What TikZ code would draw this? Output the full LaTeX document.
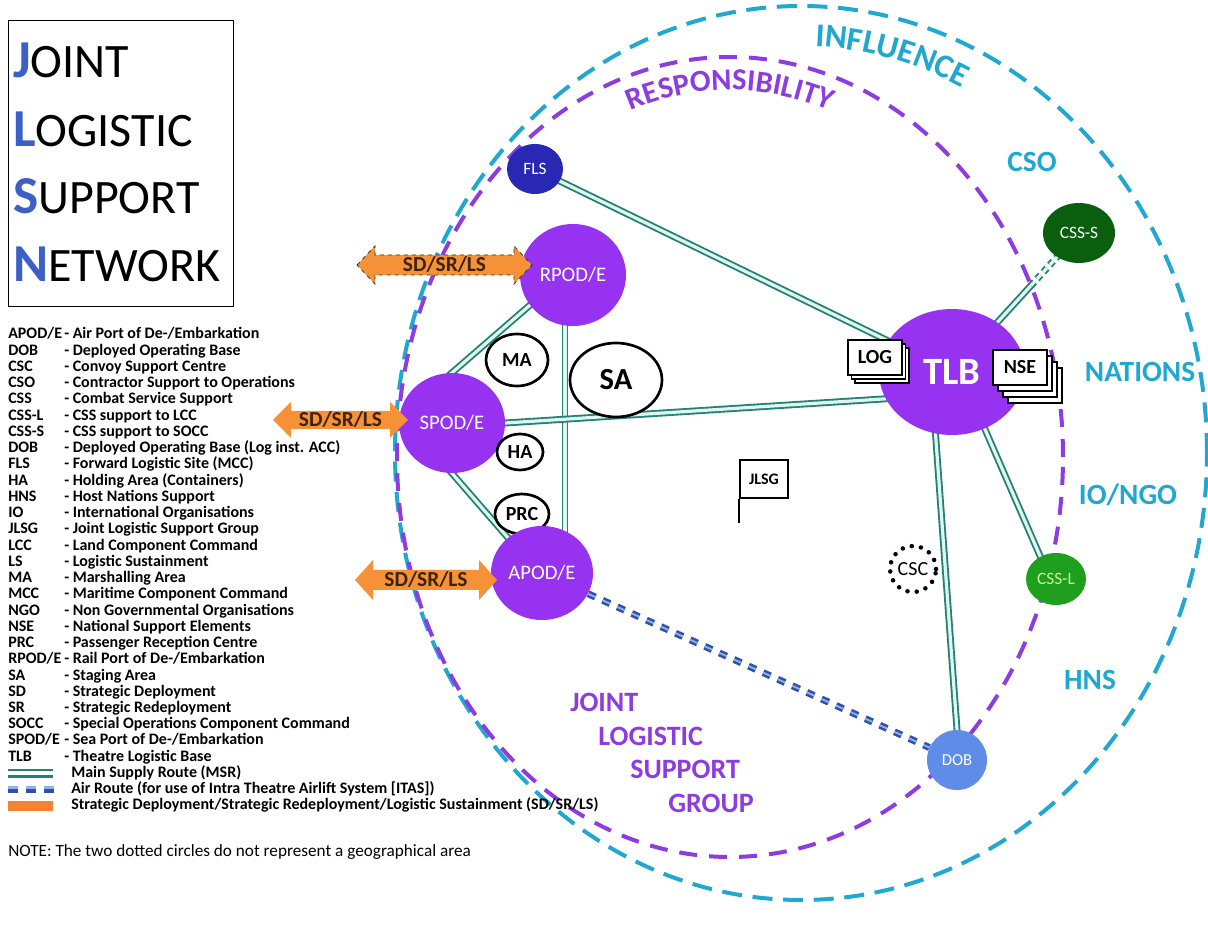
\documentclass[tikz,border=0pt]{standalone}
\usepackage{fontspec}
\setmainfont{Carlito}
\usetikzlibrary{shapes.geometric,decorations.text,calc}
\pgfdeclarelayer{bg}
\pgfsetlayers{bg,main}
\definecolor{cyanc}{RGB}{32,168,208}
\definecolor{purp}{RGB}{140,60,225}
\definecolor{nodep}{RGB}{150,50,240}
\definecolor{flsb}{RGB}{40,40,180}
\definecolor{dgreen}{RGB}{10,95,15}
\definecolor{lgreen}{RGB}{30,160,30}
\definecolor{cssltext}{RGB}{215,240,160}
\definecolor{dobb}{RGB}{95,140,230}
\definecolor{teal2}{RGB}{35,130,115}
\definecolor{msrin}{RGB}{225,245,240}
\definecolor{orng}{RGB}{245,145,55}
\definecolor{airb}{RGB}{50,80,170}
\definecolor{airl}{RGB}{140,180,230}
\definecolor{ttlb}{RGB}{60,95,200}
\definecolor{arrtxt}{RGB}{60,35,10}
\newcommand\ttlline[2]{{\color{ttlb}\bfseries\fontsize{40}{40}\selectfont #1}{\fontsize{36}{36}\selectfont #2}}
\newcommand\legrow[3]{\node[legab] (la#1) at (8,{339+16.24*#1}) {#2};\node[legab] (ld#1) at (64,{339+16.24*#1}) {- #3};}
\begin{document}
\begin{tikzpicture}[x=0.75pt,y=-0.75pt,
 ell/.style 2 args={ellipse, inner sep=0pt, minimum width={#1*1.5pt}, minimum height={#2*1.5pt}},
 portn/.style={fill=nodep, text=white, font=\fontsize{15.5}{16}\selectfont},
 areac/.style={draw=black, line width=2pt, fill=white, font=\bfseries\fontsize{15}{15}\selectfont},
 msr/.style={draw=teal2, double=msrin, double distance=2.4pt, line width=1.4pt, shorten <=-3pt, shorten >=-3pt},
 airroute/.style={draw=airb, double=airl, double distance=1.4pt, line width=1.9pt, dash pattern=on 6pt off 6pt},
 stackbox/.style={draw=black, line width=0.8pt, fill=white, minimum width=40.5pt, minimum height=26.25pt, inner sep=0pt, font=\bfseries\fontsize{15}{15}\selectfont},
 legab/.style={anchor=base west, inner sep=0pt, font=\bfseries\fontsize{12}{12}\selectfont},
 zonelab/.style={font=\bfseries\fontsize{22}{22}\selectfont, text=cyanc},
 jl/.style={anchor=base west, inner sep=0pt, font=\bfseries\fontsize{21}{21}\selectfont, text=purp},
 sdtext/.style={font=\bfseries\fontsize{16}{16}\selectfont, text=arrtxt, inner sep=0pt},
 ttl/.style={anchor=base west, inner sep=0pt}
]
\begin{pgfonlayer}{bg}
\fill[white] (0,0) rectangle (1208,944);
\end{pgfonlayer}
\useasboundingbox (0,0) rectangle (1208,944);

% ---------- title box ----------
\node[draw, line width=0.8pt, minimum width=168.75pt, minimum height=214.5pt, anchor=north west, inner sep=0pt] (title) at (8,20) {};
\node[ttl] (t1) at (13,78) {\ttlline{J}{OINT}};
\node[ttl] (t2) at (13,147) {\ttlline{L}{OGISTIC}};
\node[ttl] (t3) at (13,214) {\ttlline{S}{UPPORT}};
\node[ttl] (t4) at (13,282) {\ttlline{N}{ETWORK}};

% ---------- legend ----------
\legrow{0}{APOD/E}{Air Port of De-/Embarkation}
\legrow{1}{DOB}{Deployed Operating Base}
\legrow{2}{CSC}{Convoy Support Centre}
\legrow{3}{CSO}{Contractor Support to Operations}
\legrow{4}{CSS}{Combat Service Support}
\legrow{5}{CSS-L}{CSS support to LCC}
\legrow{6}{CSS-S}{CSS support to SOCC}
\legrow{7}{DOB}{Deployed Operating Base (Log inst. ACC)}
\legrow{8}{FLS}{Forward Logistic Site (MCC)}
\legrow{9}{HA}{Holding Area (Containers)}
\legrow{10}{HNS}{Host Nations Support}
\legrow{11}{IO}{International Organisations}
\legrow{12}{JLSG}{Joint Logistic Support Group}
\legrow{13}{LCC}{Land Component Command}
\legrow{14}{LS}{Logistic Sustainment}
\legrow{15}{MA}{Marshalling Area}
\legrow{16}{MCC}{Maritime Component Command}
\legrow{17}{NGO}{Non Governmental Organisations}
\legrow{18}{NSE}{National Support Elements}
\legrow{19}{PRC}{Passenger Reception Centre}
\legrow{20}{RPOD/E}{Rail Port of De-/Embarkation}
\legrow{21}{SA}{Staging Area}
\legrow{22}{SD}{Strategic Deployment}
\legrow{23}{SR}{Strategic Redeployment}
\legrow{24}{SOCC}{Special Operations Component Command}
\legrow{25}{SPOD/E}{Sea Port of De-/Embarkation}
\legrow{26}{TLB}{Theatre Logistic Base}
\node[legab] (ld27) at (71,{339+16.24*27}) {Main Supply Route (MSR)};
\node[legab] (ld28) at (71,{339+16.24*28}) {Air Route (for use of Intra Theatre Airlift System [ITAS])};
\node[legab] (ld29) at (71,{339+16.24*29}) {Strategic Deployment/Strategic Redeployment/Logistic Sustainment (SD/SR/LS)};
\draw[teal2, line width=2pt] (8,770) -- (53,770);
\draw[teal2, line width=2.2pt] (8,776.5) -- (53,776.5);
\foreach \xa in {8,26,44}{
  \fill[airl] (\xa,786) rectangle ++(10,3.5);
  \fill[airb] (\xa,789.5) rectangle ++(10,3.5);
}
\fill[orng!90!red] (8,801) rectangle (53,811);
\node[anchor=base west, inner sep=0pt, font=\fontsize{12.9}{13}\selectfont] (note) at (8,857) {NOTE: The two dotted circles do not represent a geographical area};

% ---------- zone circles ----------
\begin{pgfonlayer}{bg}
\draw[cyanc, line width=3pt, dash pattern=on 15pt off 8pt] (801,453) ellipse [x radius=304.5pt, y radius=335.25pt];
\draw[purp, line width=3pt, dash pattern=on 13.5pt off 9pt] (730,457) ellipse [x radius=249.75pt, y radius=300pt];
\end{pgfonlayer}
\path[decorate, decoration={text along path, text align=center, text={|\bfseries\fontsize{25}{25}\selectfont\color{cyanc}|INFLUENCE}}]
  (737.4,52.2) arc[start angle=100, end angle=52, x radius=274.5pt, y radius=305.25pt];
\path[decorate, decoration={text along path, text align=center, text={|\bfseries\fontsize{23}{23}\selectfont\color{purp}|RESPONSIBILITY}}]
  (581,138.9) arc[start angle=120, end angle=60, x radius=223.5pt, y radius=273.75pt];

% ---------- zone labels ----------
\node[zonelab] (cso) at (1032,162) {CSO};
\node[zonelab] (nations) at (1140,372) {NATIONS};
\node[zonelab] (iongo) at (1128,495) {IO/NGO};
\node[zonelab] (hns) at (1090,680) {HNS};
\node[jl] (jl1) at (570,712) {JOINT};
\node[jl] (jl2) at (598,745.5) {LOGISTIC};
\node[jl] (jl3) at (630,779) {SUPPORT};
\node[jl] (jl4) at (668,812.5) {GROUP};

% ---------- nodes ----------
\node[ell={53}{51}, portn] (rpod) at (573,275) {RPOD/E};
\node[ell={53}{50}, portn] (spod) at (452,423) {SPOD/E};
\node[ell={31}{26}, areac] (ma) at (517,360) {MA};
\node[ell={46}{37}, areac, font=\bfseries\fontsize{23}{23}\selectfont] (sa) at (616,380) {SA};
\node[ell={23}{18}, areac] (ha) at (520,452) {HA};
\node[ell={27}{20}, areac] (prc) at (522,514) {PRC};
\node[ell={51}{47}, portn] (apod) at (542,573) {APOD/E};
\node[ell={73}{63}, fill=nodep, text=white, font=\bfseries\fontsize{29}{29}\selectfont] (tlb) at (952,372) {TLB};
\node[ell={28}{25}, fill=flsb, text=white, font=\fontsize{13}{13}\selectfont] (fls) at (535,169) {FLS};
\node[ell={36}{30}, fill=dgreen, text=white, font=\fontsize{13}{13}\selectfont] (csss) at (1079,233) {CSS-S};
\node[ell={30}{26}, fill=lgreen, text=cssltext, font=\fontsize{13}{13}\selectfont] (cssl) at (1056,579) {CSS-L};
\node[ell={30}{30}, fill=dobb, text=white, font=\fontsize{12.5}{13}\selectfont] (dob) at (957,760) {DOB};
\node[ell={23}{23}, draw=black, line width=3.4pt, line cap=round, dash pattern=on 0pt off 7pt, fill=white, font=\fontsize{15}{15}\selectfont] (csc) at (913,569) {CSC};

% stacked boxes
\node[stackbox] (logb2) at (882,365.5) {};
\node[stackbox] (logb1) at (878.5,361.5) {};
\node[stackbox] (log) at (875,357.5) {LOG};
\node[stackbox] (nseb3) at (1035,385.5) {};
\node[stackbox] (nseb2) at (1030,379.5) {};
\node[stackbox] (nseb1) at (1025,373.5) {};
\node[stackbox] (nse) at (1020,367.5) {NSE};

% JLSG flag
\node[draw=black, line width=1.5pt, fill=white, minimum width=36pt, minimum height=28.5pt, inner sep=0pt, font=\bfseries\fontsize{12}{12}\selectfont] (jlsg) at (764,479) {JLSG};
\coordinate (pole) at ($(jlsg.south west)+(0,24)$);
\draw[line width=1.6pt] (jlsg.south west) -- (pole);

% ---------- connectors ----------
\coordinate (v1) at ($(rpod.south)+(-8,0)$);
\coordinate (cm) at ($(tlb)!0.62!(csss)$);
\begin{pgfonlayer}{bg}
\draw[msr] (fls) -- (tlb);
\draw[msr] (spod.north) -- (rpod.215);
\draw[msr] (v1) -- (v1 |- apod.center);
\draw[msr] (spod.east) -- (tlb.202);
\draw[msr] (spod.south) -- (apod.134);
\draw[msr] (tlb) -- (cm);
\draw[msr, shorten <=0pt, dash pattern=on 4pt off 3pt] (cm) -- (csss);
\draw[msr] (tlb.255) -- (dob.north);
\draw[msr] (tlb.-60) -- (cssl.125);
\draw[airroute] (apod) -- (dob);
\end{pgfonlayer}

% ---------- SD/SR/LS arrows ----------
\draw[fill=orng, draw=black!80, dashed, line width=0.6pt]
  (357,265) -- (375,246) -- (375,255) -- (514,255) -- (514,246) -- (532,265)
  -- (514,284) -- (514,275) -- (375,275) -- (375,284) -- cycle;
\node[sdtext] (sd1) at (444.5,265) {SD/SR/LS};
\fill[orng] (273,420) -- (291,402) -- (291,411) -- (390,411) -- (390,402) -- (408,420)
  -- (390,438) -- (390,429) -- (291,429) -- (291,438) -- cycle;
\node[sdtext] (sd2) at (340.5,420) {SD/SR/LS};
\fill[orng] (355,580) -- (373,560) -- (373,570) -- (479,570) -- (479,560) -- (497,580)
  -- (479,600) -- (479,590) -- (373,590) -- (373,600) -- cycle;
\node[sdtext] (sd3) at (426,580) {SD/SR/LS};
\end{tikzpicture}
\end{document}
